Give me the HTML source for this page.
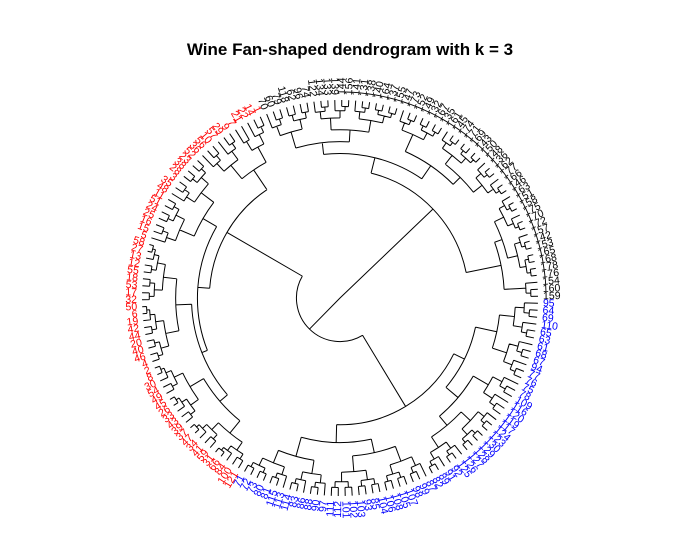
<!DOCTYPE html>
<html><head><meta charset="utf-8"><style>
html,body{margin:0;padding:0;background:#fff;}
svg{display:block;font-family:"Liberation Sans",sans-serif;}
</style></head><body>
<svg id="chart" width="700" height="540" viewBox="0 0 700 540">
<text x="350" y="55" text-anchor="middle" font-size="17" font-weight="bold">Wine Fan-shaped dendrogram with k = 3</text>
<g id="tree"></g>
<g id="labels"></g>
</svg>
<script>
const blackLabels = [159,160,154,176,178,168,165,153,142,157,172,170,175,158,151,163,146,166,177,162,136,148,150,143,169,171,174,145,161,135,167,132,149,152,173,147,155,137,164,140,138,131,141,156,144,139,133,134,122,74,96,62,118,79,60,70];
const redLabels = [1,14,22,21,7,9,29,57,10,56,36,52,23,38,28,3,35,48,11,51,24,25,16,15,5,58,27,13,12,55,18,53,17,32,50,6,19,42,44,20,40,46,4,2,8,30,54,49,45,26,33,43,39,37,47,34,41,59,31,66,84,100,121];
const blueLabels = [71,72,73,80,81,115,113,114,83,86,88,90,97,111,112,101,102,103,93,85,104,106,108,105,107,98,99,87,82,89,91,92,125,126,127,128,129,130,123,124,117,119,120,116,109,78,75,76,77,94,67,68,61,63,65,110,69,64,95];
const clusterColors = ["#000000","#ff0000","#0000ff"];
// subtree specs: [height, child, child...]; integer child = count of leaves
const blackTree = [3.5, [1.7, [1.0, 3], [1.3, 7, 6]], [2.7, [1.9, [1.4, 6, 7], [1.6, 7]], [2.1, [1.5, 7, 6], 7]]];
const redTree = [3.4, [2.2, 5, 6], [2.8, [2.0, 7, 7], [2.5, [1.7, 9, 9], [2.0, 10, 10]]]];
const blueTree = [3.6, [2.7, [1.7, 7, 6], [2.0, 8, 7]], [3.0, [2.2, [1.6, 6, 7], 6], [1.9, 6, 6]]];
const rootHeight = 10;
const redBlueHeight = 7.8;

const cx = 340, cy = 298, R = 198, labelR = 203, startAngle = 0.5;
const allLabels = blackLabels.concat(redLabels, blueLabels);
const nTips = allLabels.length;
const step = 360 / nTips;
const rOf = h => R * (1 - h / rootHeight);
const ang = i => startAngle + i * step;
const NS = "http://www.w3.org/2000/svg";
const treeG = document.getElementById("tree");
const labG = document.getElementById("labels");
let tipIdx = 0;

function pt(r, a){ const t = a*Math.PI/180; return [cx + r*Math.cos(t), cy - r*Math.sin(t)]; }
function balanced(n, h){
  if (n === 1) return {leaf:true, i: tipIdx++, h:0};
  const a = Math.ceil(n/2), b = n - a;
  return {h: h, kids:[balanced(a, h*0.6), balanced(b, h*0.6)]};
}
function build(spec){
  const h = spec[0];
  const kids = spec.slice(1).map(c => typeof c === "number" ? balanced(c, h*0.6) : build(c));
  return {h: h, kids: kids};
}
function angleOf(n){
  if (n.leaf) { n.a = ang(n.i); return n.a; }
  const as = n.kids.map(angleOf);
  n.amin = Math.min(...as); n.amax = Math.max(...as);
  n.a = as.reduce((s,v)=>s+v,0)/as.length;
  return n.a;
}
const blackNode = build(blackTree);
const redNode = build(redTree);
const blueNode = build(blueTree);
const root = {h: rootHeight, kids:[blackNode, {h: redBlueHeight, kids:[redNode, blueNode]}]};
angleOf(root);

let d = "";
function draw(n, parentR){
  const r = n.leaf ? R : rOf(n.h);
  const a = n.a;
  if (parentR !== null){
    const p1 = pt(parentR, a), p2 = pt(r, a);
    d += `M${p1[0].toFixed(2)},${p1[1].toFixed(2)}L${p2[0].toFixed(2)},${p2[1].toFixed(2)}`;
  }
  if (!n.leaf){
    if (r > 0.5){
      const s = pt(r, n.amin), e = pt(r, n.amax);
      const large = (n.amax - n.amin) > 180 ? 1 : 0;
      d += `M${s[0].toFixed(2)},${s[1].toFixed(2)}A${r.toFixed(2)},${r.toFixed(2)} 0 ${large} 0 ${e[0].toFixed(2)},${e[1].toFixed(2)}`;
    }
    n.kids.forEach(k => draw(k, r));
  }
}
draw(root, null);
const path = document.createElementNS(NS, "path");
path.setAttribute("d", d);
path.setAttribute("fill", "none");
path.setAttribute("stroke", "#000");
path.setAttribute("stroke-width", "1");


treeG.appendChild(path);

const sizes = [blackLabels.length, redLabels.length, blueLabels.length];
for (let i = 0; i < nTips; i++){
  const c = i < sizes[0] ? 0 : (i < sizes[0]+sizes[1] ? 1 : 2);
  const a = ang(i);
  const p = pt(labelR, a);
  const t = document.createElementNS(NS, "text");
  const aa = ((a % 360) + 360) % 360;
  const left = aa > 90 && aa < 270;
  t.setAttribute("x", p[0].toFixed(2));
  t.setAttribute("y", p[1].toFixed(2));
  t.setAttribute("font-size", "10.5");
  t.setAttribute("fill", clusterColors[c]);
  t.setAttribute("dominant-baseline", "central");
  t.setAttribute("text-anchor", left ? "end" : "start");
  t.setAttribute("transform", `rotate(${left ? 180 - a : -a} ${p[0].toFixed(2)} ${p[1].toFixed(2)})`);
  t.textContent = allLabels[i];
  
  
  labG.appendChild(t);
}
</script>
</body></html>
